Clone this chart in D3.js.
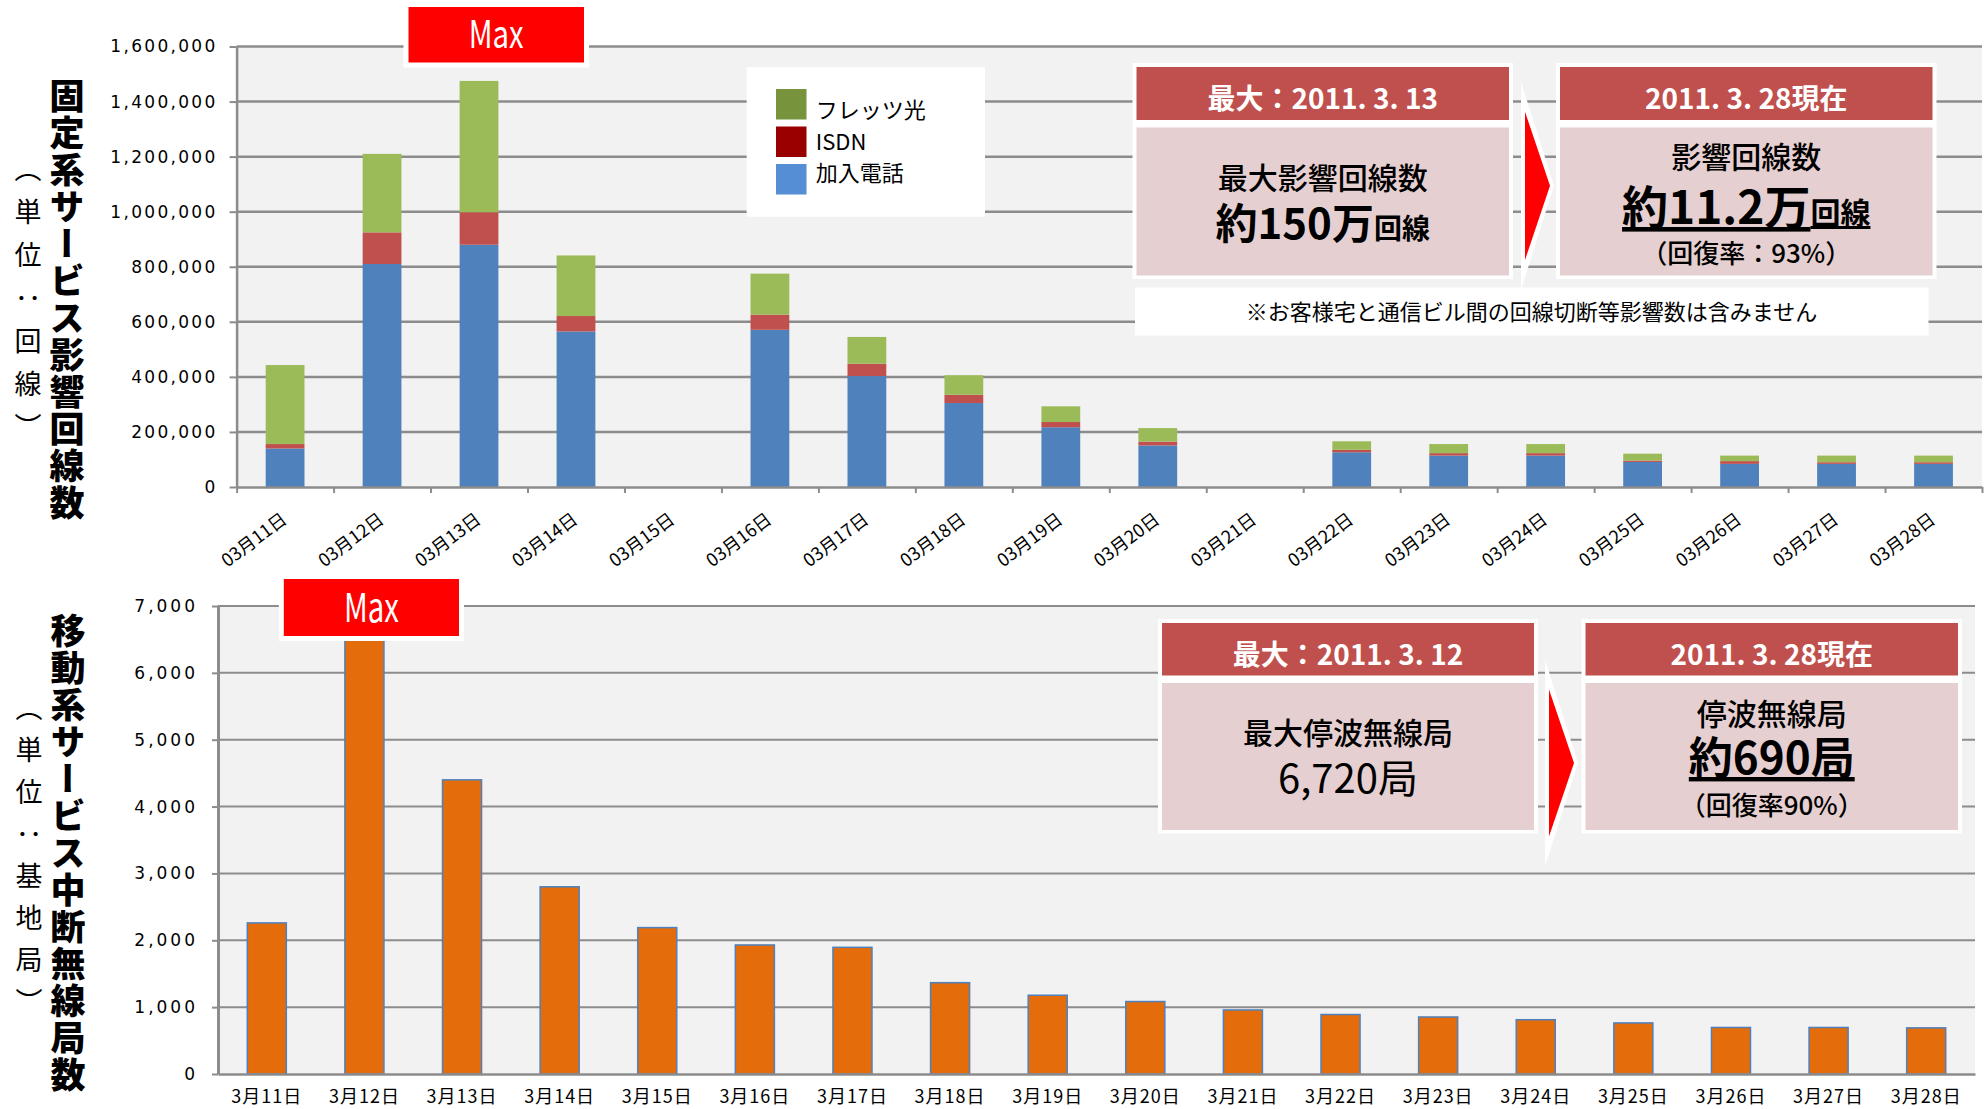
<!DOCTYPE html>
<html>
<head>
<meta charset="utf-8">
<script src="https://cdn.jsdelivr.net/npm/d3@7"></script>
<style>
  body { margin: 0; background: #fff; }
  svg text { font-family: "Noto Sans CJK JP", sans-serif; }
  .num text { font-family: "DejaVu Sans", sans-serif; }
</style>
</head>
<body>
<div id="chart"></div>
<script>
// ---- data: fixed-line services (stacked) ----
const fixedDates = ['03月11日', '03月12日', '03月13日', '03月14日', '03月15日', '03月16日',
  '03月17日', '03月18日', '03月19日', '03月20日', '03月21日', '03月22日',
  '03月23日', '03月24日', '03月25日', '03月26日', '03月27日', '03月28日'];
const phoneLines = [140000, 810000, 880000, 565000, 0, 571000, 403000, 305000, 217000,
  151000, 0, 126000, 114000, 114000, 91000, 84000, 84000, 84000];
const isdnLines = [16000, 115000, 118000, 56000, 0, 55000, 45000, 30000, 19000,
  14000, 0, 9000, 9000, 9000, 5000, 10000, 6000, 6000];
const fletsLines = [287000, 285000, 477000, 220000, 0, 149000, 97000, 71000, 57000,
  49000, 0, 31000, 33000, 33000, 25000, 20000, 24000, 24000];
const fixedTicks = [0, 200000, 400000, 600000, 800000, 1000000, 1200000, 1400000, 1600000];
const legendLabels = ['フレッツ光', 'ISDN', '加入電話'];

// ---- data: mobile base stations ----
const mobileDates = ['3月11日', '3月12日', '3月13日', '3月14日', '3月15日', '3月16日',
  '3月17日', '3月18日', '3月19日', '3月20日', '3月21日', '3月22日',
  '3月23日', '3月24日', '3月25日', '3月26日', '3月27日', '3月28日'];
const stations = [2260, 6720, 4400, 2800, 2190, 1930, 1895, 1366, 1178, 1084, 958,
  890, 853, 812, 764, 696, 696, 690];
const mobileTicks = [0, 1000, 2000, 3000, 4000, 5000, 6000, 7000];

const GRID = '#8c8c8c';
const svg = d3.select('#chart').append('svg')
    .attr('width', 1984)
    .attr('height', 1109);

function styleAxis(g, spacing) {
  g.select('.domain').attr('stroke', GRID).attr('stroke-width', 2.5);
  g.selectAll('.tick line').attr('stroke', GRID).attr('stroke-width', 2);
  g.selectAll('.tick text').attr('fill', '#000').style('letter-spacing', spacing + 'px');
}

// =========================== top chart ===========================
const tp = {left: 236.6, right: 1982, top: 46.5, bottom: 487};

const xTop = d3.scaleBand()
    .domain(fixedDates)
    .range([tp.left, tp.right])
    .paddingInner(0.6)
    .paddingOuter(0.3);
const xTopEdges = d3.scaleLinear()
    .domain([0, fixedDates.length])
    .range([tp.left, tp.right]);
const yTop = d3.scaleLinear()
    .domain([0, 1600000])
    .range([tp.bottom, tp.top]);

svg.append('rect')
    .attr('x', tp.left).attr('y', tp.top)
    .attr('width', tp.right - tp.left).attr('height', tp.bottom - tp.top)
    .attr('fill', '#f2f2f2');

svg.append('g').selectAll('line')
    .data(fixedTicks.slice(1))
  .join('line')
    .attr('x1', tp.left).attr('x2', tp.right)
    .attr('y1', d => yTop(d)).attr('y2', d => yTop(d))
    .attr('stroke', GRID).attr('stroke-width', 2.5);

const fixedRows = fixedDates.map((d, i) => ({
  date: d, phone: phoneLines[i], isdn: isdnLines[i], flets: fletsLines[i]
}));
const stacked = d3.stack().keys(['phone', 'isdn', 'flets'])(fixedRows);
const barColors = {phone: '#4f81bd', isdn: '#c0504d', flets: '#9bbb59'};

svg.append('g').selectAll('g')
    .data(stacked)
  .join('g')
    .attr('fill', s => barColors[s.key])
  .selectAll('rect')
    .data(s => s)
  .join('rect')
    .attr('x', d => xTop(d.data.date))
    .attr('width', xTop.bandwidth())
    .attr('y', d => yTop(d[1]))
    .attr('height', d => yTop(d[0]) - yTop(d[1]));

// y axis
svg.append('g')
    .attr('class', 'num')
    .attr('transform', `translate(${tp.left},0)`)
    .call(d3.axisLeft(yTop).tickValues(fixedTicks).tickFormat(d3.format(','))
      .tickSize(7).tickSizeOuter(0).tickPadding(12))
    .call(g => styleAxis(g, 2.3))
    .call(g => g.selectAll('.tick text').attr('font-size', 17));

// x axis: ticks at category edges
svg.append('g')
    .attr('transform', `translate(0,${tp.bottom})`)
    .call(d3.axisBottom(xTopEdges).tickValues(d3.range(fixedDates.length + 1))
      .tickFormat(() => '').tickSize(6).tickSizeOuter(0))
    .call(g => styleAxis(g, 0));

// x labels (rotated)
svg.append('g')
    .attr('transform', `translate(0,${tp.bottom})`)
    .call(d3.axisBottom(xTop).tickSize(0))
    .call(g => g.select('.domain').remove())
    .call(g => g.selectAll('.tick text')
      .attr('fill', '#000')
      .attr('font-size', 18)
      .attr('text-anchor', 'end')
      .attr('x', 0).attr('y', 0).attr('dy', null)
      .attr('transform', 'translate(3,35) rotate(-37)'));

// legend
const legend = svg.append('g').attr('transform', 'translate(746.7,67)');
legend.append('rect')
    .attr('width', 238.3).attr('height', 149.7)
    .attr('fill', '#fff');
const legendColors = ['#77933c', '#990000', '#558ed5'];
const legendItem = legend.selectAll('g.item')
    .data(legendLabels)
  .join('g')
    .attr('class', 'item');
legendItem.append('rect')
    .attr('x', 29.3)
    .attr('y', (d, i) => 22 + i * 37.5)
    .attr('width', 30.5).attr('height', 30.5)
    .attr('fill', (d, i) => legendColors[i]);
legendItem.append('text')
    .attr('x', 69)
    .attr('y', (d, i) => 51 + i * 31.5)
    .attr('font-size', 22)
    .attr('fill', '#000')
    .text(d => d);

// =========================== bottom chart ===========================
const bp = {left: 218, right: 1975, top: 606, bottom: 1074};

const xBot = d3.scaleBand()
    .domain(mobileDates)
    .range([bp.left, bp.right])
    .paddingInner(0.6)
    .paddingOuter(0.3);
const yBot = d3.scaleLinear()
    .domain([0, 7000])
    .range([bp.bottom, bp.top]);

svg.append('rect')
    .attr('x', bp.left).attr('y', bp.top)
    .attr('width', bp.right - bp.left).attr('height', bp.bottom - bp.top)
    .attr('fill', '#f2f2f2');

svg.append('g').selectAll('line')
    .data(mobileTicks.slice(1))
  .join('line')
    .attr('x1', bp.left).attr('x2', bp.right)
    .attr('y1', d => yBot(d)).attr('y2', d => yBot(d))
    .attr('stroke', GRID).attr('stroke-width', 2);

svg.append('g').selectAll('rect')
    .data(stations)
  .join('rect')
    .attr('x', (d, i) => xBot(mobileDates[i]))
    .attr('width', xBot.bandwidth())
    .attr('y', d => yBot(d))
    .attr('height', d => yBot(0) - yBot(d))
    .attr('fill', '#e46c0a')
    .attr('stroke', '#4f81bd')
    .attr('stroke-width', 1.5);

svg.append('g')
    .attr('class', 'num')
    .attr('transform', `translate(${bp.left},0)`)
    .call(d3.axisLeft(yBot).tickValues(mobileTicks).tickFormat(d3.format(','))
      .tickSize(6).tickSizeOuter(0).tickPadding(14))
    .call(g => styleAxis(g, 3))
    .call(g => g.select('.domain').attr('stroke-width', 3))
    .call(g => g.selectAll('.tick text').attr('font-size', 17));

svg.append('g')
    .attr('transform', `translate(0,${bp.bottom})`)
    .call(d3.axisBottom(xBot).tickSize(0).tickSizeOuter(0).tickPadding(16))
    .call(g => styleAxis(g, 1))
    .call(g => g.selectAll('.tick text').attr('font-size', 18));

// =========================== titles ===========================
function verticalTitle(x, y, text, size, weight, spacing) {
  svg.append('text')
      .attr('x', x).attr('y', y)
      .attr('text-anchor', 'middle')
      .style('writing-mode', 'vertical-rl')
      .style('letter-spacing', spacing + 'px')
      .attr('font-size', size)
      .attr('font-weight', weight)
      .attr('fill', '#000')
      .text(text);
}
verticalTitle(67, 300, '固定系サービス影響回線数', 35, 900, 2);
verticalTitle(28, 306, '（単位：回線）', 27, 400, 16);
verticalTitle(68, 854, '移動系サービス中断無線局数', 35, 900, 2);
verticalTitle(29, 862, '（単位：基地局）', 27, 400, 15);

// =========================== Max labels ===========================
function maxLabel(x, y, w, h, size) {
  svg.append('rect')
      .attr('x', x - 5).attr('y', y - 5).attr('width', w + 10).attr('height', h + 10)
      .attr('fill', '#fff');
  svg.append('rect')
      .attr('x', x).attr('y', y).attr('width', w).attr('height', h)
      .attr('fill', '#ff0000');
  svg.append('text')
      .attr('x', x + w / 2).attr('y', y + h / 2 + size * 0.36)
      .attr('text-anchor', 'middle')
      .attr('font-size', size)
      .attr('textLength', 55)
      .attr('lengthAdjust', 'spacingAndGlyphs')
      .attr('fill', '#fff')
      .text('Max');
}
maxLabel(408.5, 7, 175.5, 55.5, 38);
maxLabel(283.8, 579, 175.2, 57, 40);

// =========================== info boxes ===========================
function infoBox(x, y, w, headH, bodyH, title, lines) {
  const g = svg.append('g').attr('transform', `translate(${x},${y})`);
  g.append('rect')
      .attr('x', -4).attr('y', -4).attr('width', w + 8).attr('height', headH + bodyH + 15)
      .attr('fill', '#fff');
  g.append('rect').attr('width', w).attr('height', headH).attr('fill', '#c0504d');
  g.append('rect').attr('y', headH + 7.5).attr('width', w).attr('height', bodyH).attr('fill', '#e6cfd0');
  g.append('text')
      .attr('x', w / 2).attr('y', headH - 11)
      .attr('text-anchor', 'middle')
      .attr('font-size', 28).attr('font-weight', 700)
      .attr('fill', '#fff')
      .text(title);
  lines.forEach(l => {
    const t = g.append('text')
        .attr('x', w / 2).attr('y', l.y)
        .attr('text-anchor', 'middle')
        .attr('fill', '#000')
        .style('text-decoration', l.underline ? 'underline' : null);
    l.parts.forEach(p => {
      t.append('tspan')
          .attr('font-size', p.size)
          .attr('font-weight', p.weight || 500)
          .text(p.text);
    });
  });
}

function arrow(x, yTop, yBottom, tip) {
  const mid = (yTop + yBottom) / 2;
  svg.append('path')
      .attr('d', `M${x - 4},${yTop - 30}L${x + tip + 4},${mid}L${x - 4},${yBottom + 30}Z`)
      .attr('fill', '#fff');
  svg.append('path')
      .attr('d', `M${x},${yTop}L${x + tip},${mid}L${x},${yBottom}Z`)
      .attr('fill', '#ff0000');
}

infoBox(1136.5, 67, 372.5, 53, 148, '最大：2011. 3. 13', [
  {y: 122, parts: [{text: '最大影響回線数', size: 30}]},
  {y: 172, parts: [{text: '約150万', size: 42, weight: 700}, {text: '回線', size: 28, weight: 700}]}
]);
infoBox(1560, 67, 372.5, 53, 148, '2011. 3. 28現在', [
  {y: 101, parts: [{text: '影響回線数', size: 30}]},
  {y: 157, underline: true, parts: [{text: '約11.2万', size: 46, weight: 700}, {text: '回線', size: 30, weight: 700}]},
  {y: 196, parts: [{text: '（回復率：93%）', size: 26}]}
]);
arrow(1525, 111.7, 260, 25);

svg.append('rect')
    .attr('x', 1135).attr('y', 287.5).attr('width', 793.5).attr('height', 48)
    .attr('fill', '#fff');
svg.append('text')
    .attr('x', 1531.5).attr('y', 320)
    .attr('text-anchor', 'middle')
    .attr('font-size', 22)
    .attr('fill', '#000')
    .text('※お客様宅と通信ビル間の回線切断等影響数は含みません');

infoBox(1162, 623, 372, 52.5, 147, '最大：2011. 3. 12', [
  {y: 121, parts: [{text: '最大停波無線局', size: 30}]},
  {y: 170, parts: [{text: '6,720局', size: 40, weight: 400}]}
]);
infoBox(1585.5, 623, 372.5, 52.5, 147, '2011. 3. 28現在', [
  {y: 102, parts: [{text: '停波無線局', size: 30}]},
  {y: 151, underline: true, parts: [{text: '約690局', size: 44, weight: 700}]},
  {y: 192, parts: [{text: '（回復率90%）', size: 26}]}
]);
arrow(1549, 689.5, 836.5, 25);
</script>
</body>
</html>
